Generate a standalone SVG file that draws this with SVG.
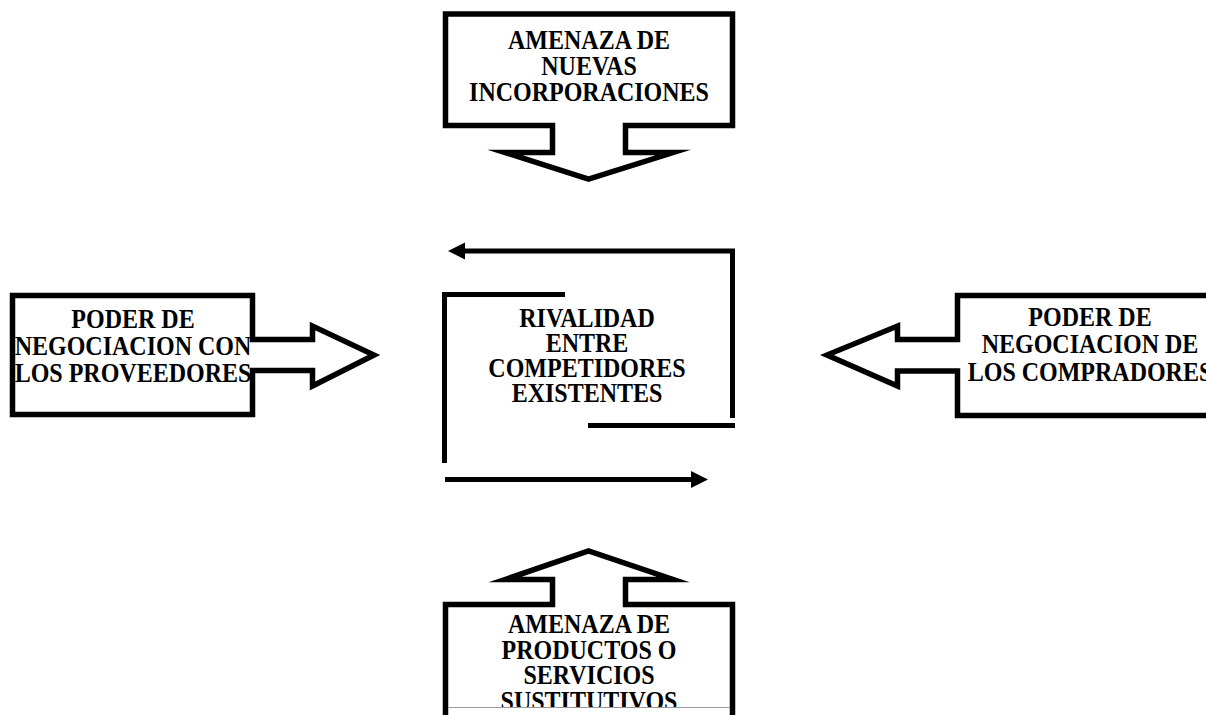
<svg xmlns="http://www.w3.org/2000/svg" width="1206" height="715" viewBox="0 0 1206 715">
  <style>
    .shape { fill: #ffffff; stroke: #000000; stroke-width: 5.5; stroke-linejoin: miter; stroke-miterlimit: 10; }
    .flow { fill: none; stroke: #000000; stroke-width: 5; stroke-linecap: butt; }
    .label { font-family: "Liberation Serif", "Times New Roman", serif; font-weight: bold; font-size: 24px; fill: #000000; text-anchor: middle; }
  </style>
  <defs>
    <marker id="head" markerUnits="userSpaceOnUse" markerWidth="18" markerHeight="18" viewBox="0 0 18 18" refX="1" refY="9" orient="auto">
      <path d="M0,0.5 L17,9 L0,17.5 Z" fill="#000000"/>
    </marker>
    <clipPath id="bottomClip">
      <rect x="0" y="0" width="1206" height="707"/>
    </clipPath>
  </defs>
  <rect width="1206" height="715" fill="#ffffff"/>

  <!-- Threat of new entrants: down-arrow callout -->
  <g id="nuevas-incorporaciones">
    <path class="shape" d="M445.5,14 H732.5 V125.5 H625.5 V152.5 H673 L588.5,179 L505,152.5 H552.5 V125.5 H445.5 Z"/>
    <text class="label" transform="matrix(1 0 0 1.13 589 49)">AMENAZA DE</text>
    <text class="label" transform="matrix(1 0 0 1.13 589 75)">NUEVAS</text>
    <text class="label" transform="matrix(1 0 0 1.13 589 101)">INCORPORACIONES</text>
  </g>

  <!-- Supplier power: right-arrow callout -->
  <g id="proveedores">
    <path class="shape" d="M12.5,295.5 H252.5 V339.5 H312.5 V326 L374,355 L312.5,386 V370.5 H252.5 V414.5 H12.5 Z"/>
    <text class="label" transform="matrix(1 0 0 1.13 133 328)">PODER DE</text>
    <text class="label" transform="matrix(1 0 0 1.13 133 355)">NEGOCIACION CON</text>
    <text class="label" transform="matrix(1 0 0 1.13 133 382)">LOS PROVEEDORES</text>
  </g>

  <!-- Buyer power: left-arrow callout, running past the right edge -->
  <g id="compradores">
    <path class="shape" d="M1230,295.5 H957.5 V339.5 H897.5 V326 L827,355 L897.5,386 V371 H957.5 V415.5 H1230 Z"/>
    <text class="label" transform="matrix(1 0 0 1.13 1090 326)">PODER DE</text>
    <text class="label" transform="matrix(1 0 0 1.13 1090 353)">NEGOCIACION DE</text>
    <text class="label" transform="matrix(1 0 0 1.13 1090 381)">LOS COMPRADORES</text>
  </g>

  <!-- Threat of substitutes: up-arrow callout, running past the bottom edge -->
  <g id="sustitutivos">
    <path class="shape" d="M445.5,740 V604.5 H552.5 V579.5 H505 L588.5,551 L673,579.5 H625.5 V604.5 H732.5 V740"/>
    <g clip-path="url(#bottomClip)">
      <text class="label" transform="matrix(1 0 0 1.13 589 633)">AMENAZA DE</text>
      <text class="label" transform="matrix(1 0 0 1.13 589 659)">PRODUCTOS O</text>
      <text class="label" transform="matrix(1 0 0 1.13 589 684)">SERVICIOS</text>
      <text class="label" transform="matrix(1 0 0 1.13 589 710)">SUSTITUTIVOS</text>
    </g>
    <line x1="448" y1="707.5" x2="730" y2="707.5" stroke="#9a9a9a" stroke-width="1"/>
  </g>

  <!-- Rivalry among existing competitors -->
  <g id="rivalidad">
    <text class="label" transform="matrix(1 0 0 1.13 587 327)">RIVALIDAD</text>
    <text class="label" transform="matrix(1 0 0 1.13 587 352)">ENTRE</text>
    <text class="label" transform="matrix(1 0 0 1.13 587 377)">COMPETIDORES</text>
    <text class="label" transform="matrix(1 0 0 1.13 587 402)">EXISTENTES</text>
  </g>

  <!-- Circular rivalry connectors -->
  <g id="connectors">
    <polyline class="flow" points="732.5,418 732.5,251 464,251" marker-end="url(#head)"/>
    <line class="flow" x1="588" y1="425.5" x2="735" y2="425.5"/>
    <polyline class="flow" points="565,294.5 444.5,294.5 444.5,463"/>
    <line class="flow" x1="445" y1="479.5" x2="692" y2="479.5" marker-end="url(#head)"/>
  </g>
</svg>
